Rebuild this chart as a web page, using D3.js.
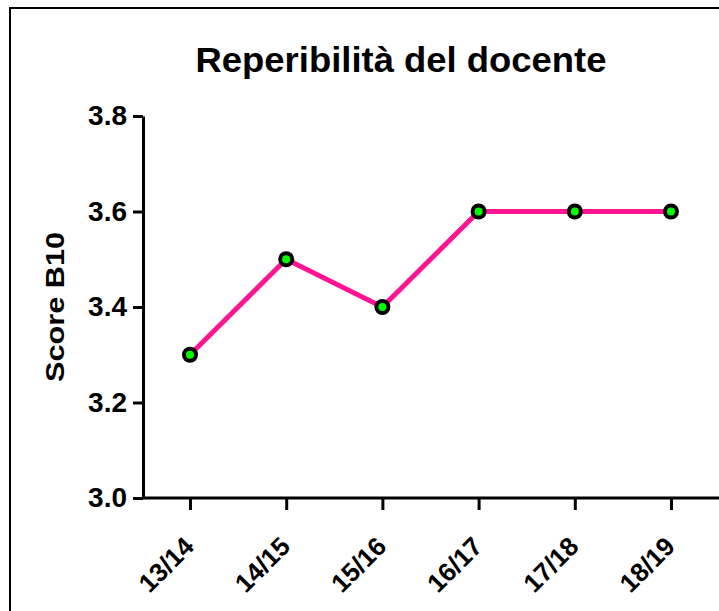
<!DOCTYPE html>
<html>
<head>
<meta charset="utf-8">
<script src="https://cdn.jsdelivr.net/npm/d3@7"></script>
<style>
  body { margin: 0; background: #fff; }
  text { font-family: "Liberation Sans", Arial, sans-serif; font-weight: bold; }
</style>
</head>
<body>
<script>
const years = ["13/14", "14/15", "15/16", "16/17", "17/18", "18/19"];
const scores = [3.3, 3.5, 3.4, 3.6, 3.6, 3.6];
const yTicks = [3.0, 3.2, 3.4, 3.6, 3.8];

const width = 719, height = 611;
const axisLeft = 143, axisRight = 719, axisTop = 116, axisBottom = 498;

const svg = d3.select("body").append("svg")
  .attr("width", width)
  .attr("height", height);

// frame (top and left only visible)
svg.append("path")
  .attr("d", `M10,${height} L10,8 L${width},8`)
  .attr("fill", "none")
  .attr("stroke", "#000")
  .attr("stroke-width", 2);

const x = d3.scalePoint()
  .domain(years)
  .range([190, 671]);

const y = d3.scaleLinear()
  .domain([3.0, 3.8])
  .range([axisBottom, axisTop]);

// y axis
const yAxis = svg.append("g")
  .attr("transform", `translate(${axisLeft},0)`)
  .call(d3.axisLeft(y).tickValues(yTicks).tickFormat(d3.format(".1f")).tickSize(10).tickSizeOuter(0));
yAxis.select(".domain").attr("stroke-width", 3);
yAxis.selectAll(".tick line").attr("stroke-width", 3);
yAxis.selectAll(".tick text")
  .attr("x", -16)
  .style("font-size", "28px")
  .attr("fill", "#000");

// x axis
svg.append("line")
  .attr("x1", axisLeft - 1).attr("x2", axisRight)
  .attr("y1", axisBottom).attr("y2", axisBottom)
  .attr("stroke", "#000").attr("stroke-width", 3);

const xAxis = svg.append("g")
  .attr("transform", `translate(0,${axisBottom})`)
  .call(d3.axisBottom(x).tickSize(12).tickSizeOuter(0));
xAxis.select(".domain").remove();
xAxis.selectAll(".tick line").attr("stroke-width", 3);
xAxis.selectAll(".tick text")
  .attr("y", 0).attr("dy", 0)
  .attr("text-anchor", "end")
  .attr("transform", "translate(5,50) rotate(-45)")
  .style("font-size", "26px")
  .attr("fill", "#000");

// title
svg.append("text")
  .attr("x", 401).attr("y", 72)
  .attr("text-anchor", "middle")
  .attr("textLength", 411)
  .attr("lengthAdjust", "spacingAndGlyphs")
  .style("font-size", "35px")
  .text("Reperibilità del docente");

// y label
svg.append("text")
  .attr("transform", `translate(64,307) rotate(-90)`)
  .attr("text-anchor", "middle")
  .attr("textLength", 150)
  .attr("lengthAdjust", "spacingAndGlyphs")
  .style("font-size", "26px")
  .text("Score B10");

// line
const line = d3.line()
  .x((d, i) => x(years[i]))
  .y(d => y(d));

svg.append("path")
  .datum(scores)
  .attr("d", line)
  .attr("fill", "none")
  .attr("stroke", "#ff1493")
  .attr("stroke-width", 5);

// markers
const pts = svg.selectAll(".pt")
  .data(scores)
  .enter().append("g")
  .attr("transform", (d, i) => `translate(${x(years[i])},${y(d)})`);
pts.append("circle").attr("r", 8).attr("fill", "#000");
pts.append("circle").attr("r", 4).attr("fill", "#00ff00");
</script>
</body>
</html>
